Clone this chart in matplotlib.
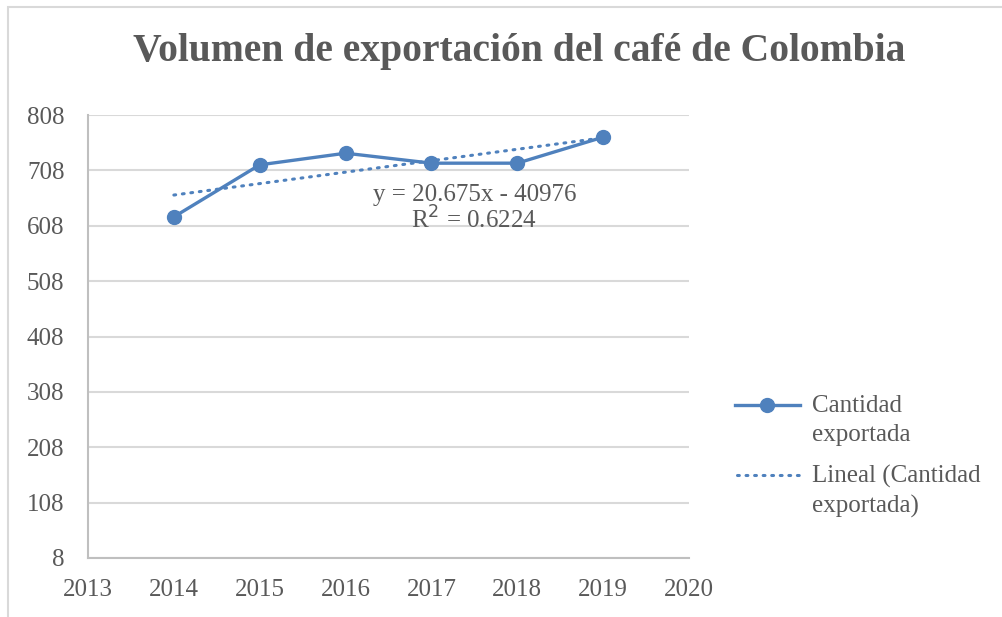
import matplotlib

matplotlib.use("Agg")
import matplotlib.pyplot as plt
from matplotlib.lines import Line2D
from matplotlib.patches import Rectangle

# data
years = [2014, 2015, 2016, 2017, 2018, 2019]
cantidad = [624, 718, 739, 721, 721, 768]
trend_slope = 20.675  # from the trendline label
trend_intercept = -40976
r_squared = 0.6224
y_ticks = [8, 108, 208, 308, 408, 508, 608, 708, 808]
x_ticks = [2013, 2014, 2015, 2016, 2017, 2018, 2019, 2020]

BLUE = "#4f81bd"
TEXT = "#595959"
GRID = "#d9d9d9"
FS = 18

plt.rcParams["font.family"] = "Liberation Serif"

fig = plt.figure(figsize=(10.03, 6.17), dpi=100)
ax = fig.add_axes([88 / 1003, 1 - 558 / 617, (689 - 88) / 1003, (558 - 115) / 617])

ax.plot(years, cantidad, color=BLUE, lw=2.4, marker="o", ms=10, zorder=3)
trend_y = [trend_slope * x + trend_intercept for x in years]
ax.plot(years, trend_y, color=BLUE, lw=2.2, ls=(0, (0.6, 2.2)),
        dash_capstyle="round", zorder=2)

ax.set_xlim(x_ticks[0], x_ticks[-1])
ax.set_ylim(y_ticks[0], y_ticks[-1])
ax.set_xticks(x_ticks)
ax.set_yticks(y_ticks)
ax.tick_params(length=0, labelsize=FS, labelcolor=TEXT)
ax.tick_params(axis="y", pad=17)
ax.tick_params(axis="x", pad=15)
ax.grid(axis="y", color=GRID, lw=1.5)
ax.set_axisbelow(True)
for side in ("top", "right"):
    ax.spines[side].set_visible(False)
for side in ("left", "bottom"):
    ax.spines[side].set_color("#bfbfbf")
    ax.spines[side].set_linewidth(1.5)

ax.text(2017.5, 639, f"y = {trend_slope}x - {abs(trend_intercept)}\nR$^2$ = {r_squared}",
        ha="center", va="center", fontsize=FS, color=TEXT, linespacing=1.0)

fig.text(519 / 1003, 1 - 52 / 617, "Volumen de exportación del café de Colombia",
         ha="center", va="center", fontsize=28.5, fontweight="bold", color=TEXT)

# legend drawn by hand so the handles sit on the first text line
y1 = 1 - 405 / 617
y2 = 1 - 475 / 617
fig.add_artist(Line2D([735 / 1003, 800 / 1003], [y1, y1], color=BLUE, lw=2.4))
fig.add_artist(Line2D([767.5 / 1003], [y1], color=BLUE, marker="o", ms=10))
fig.add_artist(Line2D([737 / 1003, 800 / 1003], [y2, y2], color=BLUE, lw=2.2,
                      ls=(0, (0.6, 2.2)), dash_capstyle="round"))
fig.text(812 / 1003, 1 - 395 / 617, "Cantidad\nexportada", ha="left", va="top",
         fontsize=FS, color=TEXT, linespacing=1.4)
fig.text(812 / 1003, 1 - 465 / 617, "Lineal (Cantidad\nexportada)", ha="left", va="top",
         fontsize=FS, color=TEXT, linespacing=1.4)

# outer chart frame
fig.add_artist(Rectangle((8 / 1003, -0.05), 1.1, 1 - 7 / 617 + 0.05, fill=False,
                         edgecolor=GRID, lw=1.5, transform=fig.transFigure))

fig.savefig("out.png", dpi=100)
